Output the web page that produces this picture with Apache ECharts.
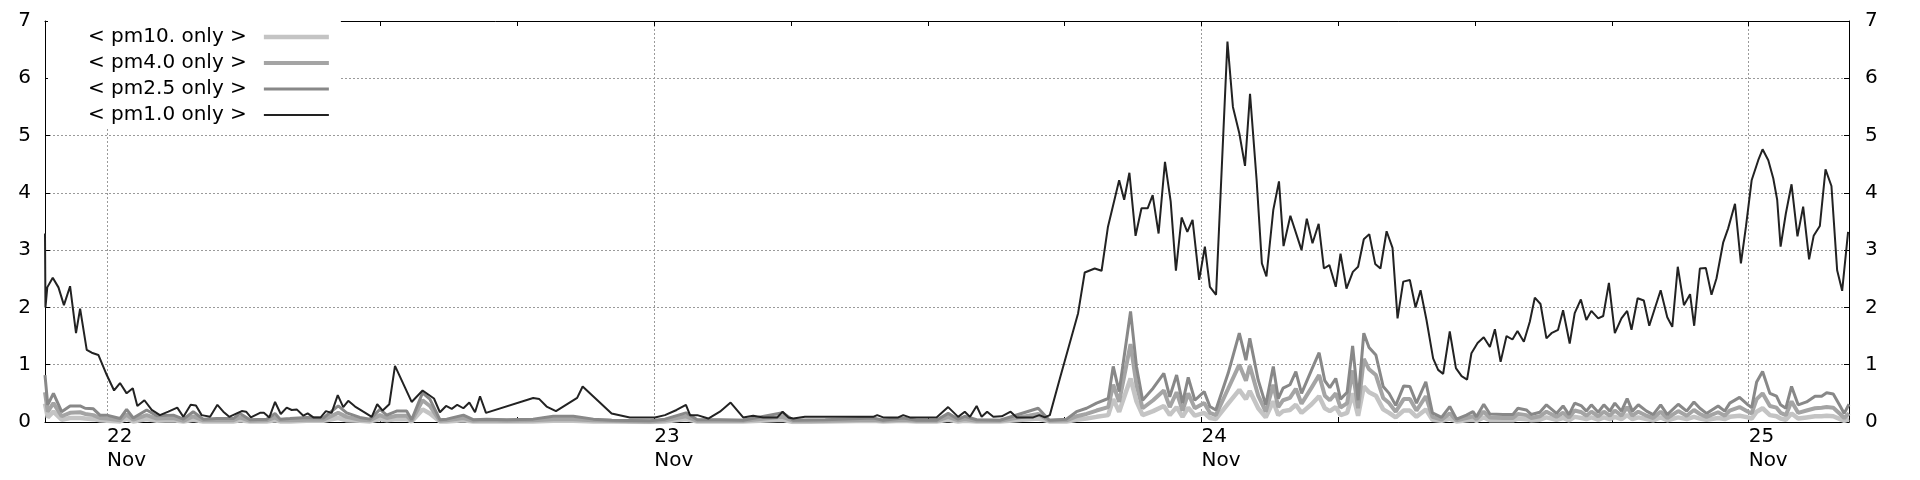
<!DOCTYPE html>
<html><head><meta charset="utf-8">
<script src="https://cdn.jsdelivr.net/npm/echarts@6/dist/echarts.min.js"></script>
<style>html,body{margin:0;padding:0;background:#fff}#chart{width:1920px;height:480px}</style>
</head><body><div id="chart"></div>
<script>
// x values: hours since 22 Nov 00:00
const xRange = [-2.72, 76.4];
const sixHourTicks = [0, 6, 12, 18, 24, 30, 36, 42, 48, 54, 60, 66, 72];
const dayTicks = [0, 24, 48, 72];
const dayLabels = ['22', '23', '24', '25'];
const monthLabel = 'Nov';
const yRange = [0, 7];
const seriesNames = ['< pm10. only >', '< pm4.0 only >', '< pm2.5 only >', '< pm1.0 only >'];

const pm1Points = [[-2.72,3.29],[-2.70,2.00],[-2.62,2.35],[-2.38,2.52],[-2.13,2.35],[-1.89,2.04],[-1.62,2.37],[-1.36,1.55],[-1.18,1.98],[-0.89,1.26],[-0.67,1.21],[-0.38,1.17],[-0.01,0.82],[0.31,0.55],[0.57,0.68],[0.86,0.50],[1.13,0.59],[1.33,0.28],[1.64,0.38],[1.96,0.21],[2.32,0.12],[2.69,0.18],[3.08,0.25],[3.35,0.09],[3.67,0.30],[3.90,0.29],[4.15,0.12],[4.52,0.09],[4.84,0.30],[5.10,0.18],[5.36,0.09],[5.69,0.15],[5.91,0.19],[6.10,0.18],[6.31,0.08],[6.71,0.16],[6.88,0.16],[7.12,0.08],[7.37,0.35],[7.62,0.14],[7.88,0.25],[8.10,0.21],[8.32,0.22],[8.61,0.11],[8.80,0.15],[9.05,0.08],[9.37,0.08],[9.60,0.19],[9.85,0.16],[10.12,0.47],[10.36,0.26],[10.58,0.37],[10.88,0.27],[11.24,0.18],[11.61,0.09],[11.85,0.31],[12.09,0.20],[12.38,0.31],[12.63,0.98],[13.36,0.35],[13.84,0.55],[14.34,0.41],[14.60,0.17],[14.87,0.28],[15.12,0.23],[15.36,0.30],[15.63,0.24],[15.89,0.34],[16.14,0.17],[16.36,0.45],[16.62,0.16],[18.69,0.42],[18.96,0.40],[19.28,0.27],[19.69,0.19],[20.62,0.42],[20.86,0.62],[22.13,0.15],[22.93,0.08],[24.03,0.08],[24.47,0.12],[24.98,0.21],[25.39,0.30],[25.57,0.12],[25.89,0.12],[26.37,0.06],[26.88,0.18],[27.35,0.34],[27.90,0.08],[28.34,0.11],[28.78,0.08],[29.40,0.08],[29.63,0.18],[29.88,0.08],[30.10,0.06],[30.61,0.09],[33.60,0.09],[33.78,0.12],[34.04,0.08],[34.70,0.08],[34.92,0.12],[35.21,0.08],[36.38,0.08],[36.89,0.26],[37.33,0.09],[37.62,0.18],[37.85,0.09],[38.14,0.28],[38.36,0.09],[38.60,0.18],[38.87,0.09],[39.24,0.10],[39.63,0.18],[39.90,0.08],[40.62,0.08],[40.89,0.12],[41.13,0.08],[41.35,0.12],[41.79,0.76],[42.59,1.90],[42.88,2.61],[43.32,2.68],[43.62,2.64],[43.90,3.41],[44.39,4.22],[44.61,3.88],[44.84,4.35],[45.11,3.25],[45.37,3.73],[45.64,3.73],[45.86,3.96],[46.12,3.29],[46.40,4.54],[46.65,3.85],[46.88,2.64],[47.13,3.57],[47.38,3.32],[47.61,3.53],[47.90,2.48],[48.15,3.06],[48.37,2.36],[48.64,2.22],[49.14,6.64],[49.38,5.50],[49.66,5.04],[49.91,4.47],[50.13,5.73],[50.42,4.22],[50.65,2.77],[50.85,2.54],[51.15,3.70],[51.40,4.20],[51.60,3.07],[51.90,3.60],[52.39,3.00],[52.62,3.55],[52.87,3.12],[53.14,3.46],[53.37,2.68],[53.61,2.74],[53.89,2.36],[54.10,2.94],[54.36,2.33],[54.64,2.62],[54.87,2.71],[55.12,3.19],[55.36,3.28],[55.62,2.76],[55.85,2.68],[56.12,3.33],[56.38,3.04],[56.60,1.81],[56.85,2.45],[57.14,2.48],[57.39,2.00],[57.61,2.30],[57.87,1.78],[58.16,1.11],[58.38,0.91],[58.60,0.84],[58.89,1.58],[59.16,0.94],[59.41,0.80],[59.65,0.74],[59.84,1.20],[60.11,1.38],[60.38,1.48],[60.65,1.31],[60.87,1.62],[61.12,1.05],[61.38,1.50],[61.64,1.44],[61.86,1.59],[62.14,1.40],[62.40,1.75],[62.62,2.17],[62.87,2.06],[63.13,1.46],[63.35,1.55],[63.64,1.61],[63.86,1.95],[64.15,1.37],[64.37,1.90],[64.64,2.14],[64.88,1.78],[65.10,1.94],[65.40,1.81],[65.62,1.85],[65.87,2.43],[66.13,1.55],[66.42,1.81],[66.67,1.94],[66.86,1.61],[67.13,2.16],[67.40,2.12],[67.64,1.68],[68.14,2.30],[68.43,1.83],[68.65,1.66],[68.89,2.71],[69.16,2.04],[69.43,2.23],[69.61,1.68],[69.86,2.68],[70.12,2.69],[70.37,2.22],[70.59,2.51],[70.88,3.13],[71.10,3.38],[71.40,3.81],[71.66,2.77],[71.88,3.41],[72.13,4.22],[72.42,4.57],[72.61,4.76],[72.86,4.57],[73.08,4.25],[73.25,3.88],[73.40,3.06],[73.63,3.64],[73.88,4.15],[74.14,3.24],[74.39,3.76],[74.65,2.84],[74.85,3.25],[75.12,3.42],[75.37,4.41],[75.63,4.12],[75.88,2.65],[76.10,2.29],[76.36,3.32]];

const pm25Points = [[-2.72,0.82],[-2.60,0.30],[-2.35,0.50],[-1.99,0.18],[-1.62,0.28],[-1.18,0.28],[-0.96,0.24],[-0.60,0.23],[-0.31,0.12],[-0.01,0.12],[0.57,0.06],[0.86,0.22],[1.15,0.07],[1.74,0.21],[2.18,0.11],[2.91,0.12],[3.35,0.05],[3.78,0.18],[4.22,0.05],[4.81,0.06],[5.54,0.06],[5.83,0.15],[6.27,0.04],[7.00,0.05],[7.37,0.15],[7.59,0.05],[8.02,0.06],[8.76,0.08],[9.49,0.07],[10.14,0.28],[10.51,0.16],[11.09,0.08],[11.53,0.05],[11.97,0.22],[12.27,0.12],[12.70,0.19],[13.14,0.19],[13.36,0.04],[13.84,0.51],[14.16,0.40],[14.60,0.04],[14.90,0.05],[15.63,0.12],[16.06,0.04],[16.65,0.05],[17.53,0.04],[18.69,0.05],[19.57,0.10],[20.45,0.10],[21.33,0.05],[22.13,0.03],[23.81,0.02],[24.47,0.05],[25.39,0.16],[25.89,0.04],[26.88,0.04],[27.90,0.03],[29.63,0.16],[30.10,0.03],[31.50,0.04],[33.60,0.07],[34.04,0.03],[34.92,0.07],[35.50,0.03],[36.38,0.03],[36.89,0.15],[37.33,0.05],[37.62,0.10],[38.14,0.04],[39.16,0.03],[40.84,0.24],[41.33,0.03],[42.08,0.05],[42.52,0.18],[42.96,0.24],[43.40,0.33],[43.91,0.41],[44.13,0.97],[44.39,0.53],[44.89,1.93],[45.15,0.97],[45.42,0.38],[45.88,0.59],[46.35,0.85],[46.61,0.44],[46.91,0.82],[47.17,0.33],[47.42,0.78],[47.71,0.38],[48.12,0.53],[48.37,0.27],[48.63,0.21],[49.17,0.85],[49.66,1.55],[49.95,1.08],[50.12,1.46],[50.49,0.73],[50.82,0.30],[51.15,0.97],[51.37,0.41],[51.58,0.59],[51.88,0.65],[52.14,0.88],[52.39,0.50],[52.83,0.91],[53.16,1.21],[53.41,0.72],[53.63,0.60],[53.89,0.76],[54.10,0.40],[54.39,0.52],[54.63,1.33],[54.87,0.38],[55.12,1.55],[55.35,1.30],[55.65,1.17],[55.97,0.62],[56.23,0.50],[56.52,0.29],[56.87,0.63],[57.14,0.62],[57.43,0.33],[57.84,0.70],[58.13,0.16],[58.53,0.08],[58.89,0.27],[59.19,0.05],[59.62,0.12],[59.91,0.18],[60.06,0.09],[60.38,0.31],[60.65,0.14],[61.23,0.13],[61.66,0.13],[61.88,0.24],[62.25,0.21],[62.47,0.13],[62.84,0.17],[63.13,0.30],[63.57,0.15],[63.86,0.28],[64.12,0.13],[64.37,0.33],[64.67,0.28],[64.88,0.19],[65.10,0.30],[65.40,0.17],[65.65,0.30],[65.91,0.19],[66.13,0.33],[66.42,0.19],[66.67,0.41],[66.90,0.19],[67.16,0.30],[67.52,0.19],[67.81,0.13],[68.14,0.30],[68.43,0.13],[68.91,0.31],[69.28,0.19],[69.60,0.35],[69.86,0.24],[70.15,0.15],[70.66,0.28],[70.95,0.19],[71.17,0.33],[71.60,0.43],[71.97,0.30],[72.13,0.25],[72.35,0.70],[72.61,0.88],[72.93,0.50],[73.22,0.45],[73.40,0.30],[73.63,0.24],[73.88,0.62],[74.17,0.30],[74.54,0.35],[74.91,0.45],[75.20,0.45],[75.42,0.51],[75.71,0.49],[76.01,0.28],[76.19,0.15],[76.40,0.31]];

const pm40Points = [[-2.72,0.52],[-2.60,0.18],[-2.35,0.33],[-1.99,0.10],[-1.62,0.16],[-1.18,0.17],[-0.96,0.14],[-0.60,0.12],[-0.31,0.07],[-0.01,0.06],[0.57,0.03],[0.86,0.13],[1.15,0.04],[1.74,0.12],[2.18,0.06],[2.91,0.07],[3.35,0.02],[3.78,0.10],[4.22,0.03],[4.81,0.03],[5.54,0.03],[5.83,0.08],[6.27,0.02],[7.00,0.03],[7.37,0.08],[7.59,0.03],[8.02,0.03],[8.76,0.04],[9.49,0.04],[10.14,0.16],[10.51,0.09],[11.09,0.04],[11.53,0.03],[11.97,0.12],[12.27,0.07],[12.70,0.11],[13.14,0.11],[13.36,0.02],[13.84,0.38],[14.16,0.28],[14.60,0.02],[14.90,0.03],[15.63,0.07],[16.06,0.02],[16.65,0.03],[17.53,0.02],[18.69,0.03],[19.57,0.05],[20.45,0.05],[21.33,0.03],[22.13,0.02],[23.81,0.01],[24.47,0.03],[25.39,0.10],[25.89,0.02],[26.88,0.02],[27.90,0.02],[29.63,0.09],[30.10,0.02],[31.50,0.02],[33.60,0.04],[34.04,0.02],[34.92,0.04],[35.50,0.02],[36.38,0.02],[36.89,0.09],[37.33,0.03],[37.62,0.05],[38.14,0.02],[39.16,0.02],[40.84,0.14],[41.33,0.02],[42.08,0.03],[42.52,0.10],[42.96,0.14],[43.40,0.20],[43.91,0.26],[44.13,0.65],[44.39,0.35],[44.89,1.36],[45.15,0.65],[45.42,0.24],[45.88,0.38],[46.35,0.55],[46.61,0.26],[46.91,0.52],[47.17,0.20],[47.42,0.50],[47.71,0.24],[48.12,0.33],[48.37,0.16],[48.63,0.12],[49.17,0.58],[49.66,1.00],[49.95,0.72],[50.12,0.98],[50.49,0.46],[50.82,0.18],[51.15,0.65],[51.37,0.26],[51.58,0.38],[51.88,0.42],[52.14,0.58],[52.39,0.32],[52.83,0.60],[53.16,0.82],[53.41,0.46],[53.63,0.38],[53.89,0.50],[54.10,0.25],[54.39,0.33],[54.63,0.90],[54.87,0.24],[55.12,1.10],[55.35,0.92],[55.65,0.82],[55.97,0.42],[56.23,0.33],[56.52,0.18],[56.87,0.40],[57.14,0.40],[57.43,0.20],[57.84,0.45],[58.13,0.09],[58.53,0.04],[58.89,0.15],[59.19,0.03],[59.62,0.07],[59.91,0.10],[60.06,0.05],[60.38,0.18],[60.65,0.08],[61.23,0.07],[61.66,0.07],[61.88,0.14],[62.25,0.12],[62.47,0.07],[62.84,0.10],[63.13,0.18],[63.57,0.09],[63.86,0.16],[64.12,0.08],[64.37,0.20],[64.67,0.17],[64.88,0.11],[65.10,0.18],[65.40,0.10],[65.65,0.18],[65.91,0.11],[66.13,0.20],[66.42,0.11],[66.67,0.26],[66.90,0.11],[67.16,0.18],[67.52,0.11],[67.81,0.07],[68.14,0.18],[68.43,0.07],[68.91,0.19],[69.28,0.11],[69.60,0.21],[69.86,0.14],[70.15,0.09],[70.66,0.17],[70.95,0.11],[71.17,0.20],[71.60,0.26],[71.97,0.18],[72.13,0.15],[72.35,0.40],[72.61,0.50],[72.93,0.28],[73.22,0.25],[73.40,0.16],[73.63,0.12],[73.88,0.36],[74.17,0.16],[74.54,0.20],[74.91,0.24],[75.20,0.25],[75.42,0.26],[75.71,0.25],[76.01,0.14],[76.19,0.07],[76.40,0.15]];

const pm10Points = [[-2.72,0.32],[-2.60,0.08],[-2.35,0.18],[-1.99,0.04],[-1.62,0.07],[-1.18,0.07],[-0.96,0.06],[-0.60,0.05],[-0.31,0.03],[-0.01,0.02],[0.57,0.01],[0.86,0.06],[1.15,0.01],[1.74,0.05],[2.18,0.02],[2.91,0.03],[3.35,0.01],[3.78,0.04],[4.22,0.01],[4.81,0.01],[5.54,0.01],[5.83,0.03],[6.27,0.01],[7.00,0.01],[7.37,0.03],[7.59,0.01],[8.02,0.01],[8.76,0.02],[9.49,0.02],[10.14,0.07],[10.51,0.03],[11.09,0.02],[11.53,0.01],[11.97,0.05],[12.27,0.03],[12.70,0.05],[13.14,0.05],[13.36,0.01],[13.84,0.22],[14.16,0.15],[14.60,0.01],[14.90,0.01],[15.63,0.03],[16.06,0.01],[16.65,0.01],[17.53,0.01],[18.69,0.01],[19.57,0.02],[20.45,0.02],[21.33,0.01],[22.13,0.01],[23.81,0.00],[24.47,0.01],[25.39,0.05],[25.89,0.01],[26.88,0.01],[27.90,0.01],[29.63,0.04],[30.10,0.00],[31.50,0.01],[33.60,0.02],[34.04,0.01],[34.92,0.02],[35.50,0.01],[36.38,0.01],[36.89,0.04],[37.33,0.01],[37.62,0.02],[38.14,0.01],[39.16,0.01],[40.84,0.06],[41.33,0.01],[42.08,0.01],[42.52,0.04],[42.96,0.06],[43.40,0.09],[43.91,0.12],[44.13,0.40],[44.39,0.18],[44.89,0.76],[45.15,0.36],[45.42,0.12],[45.88,0.19],[46.35,0.28],[46.61,0.12],[46.91,0.26],[47.17,0.09],[47.42,0.25],[47.71,0.11],[48.12,0.16],[48.37,0.07],[48.63,0.05],[49.17,0.32],[49.66,0.56],[49.95,0.40],[50.12,0.54],[50.49,0.24],[50.82,0.08],[51.15,0.36],[51.37,0.12],[51.58,0.19],[51.88,0.21],[52.14,0.30],[52.39,0.16],[52.83,0.31],[53.16,0.45],[53.41,0.24],[53.63,0.19],[53.89,0.26],[54.10,0.12],[54.39,0.16],[54.63,0.50],[54.87,0.11],[55.12,0.62],[55.35,0.52],[55.65,0.46],[55.97,0.22],[56.23,0.16],[56.52,0.08],[56.87,0.20],[57.14,0.20],[57.43,0.09],[57.84,0.22],[58.13,0.04],[58.53,0.02],[58.89,0.06],[59.19,0.01],[59.62,0.03],[59.91,0.04],[60.06,0.02],[60.38,0.08],[60.65,0.03],[61.23,0.03],[61.66,0.03],[61.88,0.06],[62.25,0.05],[62.47,0.03],[62.84,0.04],[63.13,0.08],[63.57,0.04],[63.86,0.07],[64.12,0.03],[64.37,0.09],[64.67,0.07],[64.88,0.05],[65.10,0.08],[65.40,0.04],[65.65,0.08],[65.91,0.05],[66.13,0.09],[66.42,0.05],[66.67,0.12],[66.90,0.05],[67.16,0.08],[67.52,0.05],[67.81,0.03],[68.14,0.08],[68.43,0.03],[68.91,0.08],[69.28,0.05],[69.60,0.09],[69.86,0.06],[70.15,0.04],[70.66,0.07],[70.95,0.05],[71.17,0.09],[71.60,0.11],[71.97,0.08],[72.13,0.06],[72.35,0.18],[72.61,0.24],[72.93,0.12],[73.22,0.10],[73.40,0.06],[73.63,0.04],[73.88,0.15],[74.17,0.06],[74.54,0.08],[74.91,0.10],[75.20,0.10],[75.42,0.11],[75.71,0.10],[76.01,0.05],[76.19,0.02],[76.40,0.05]];

const seriesColors = ['#c4c4c4', '#a4a4a4', '#888888', '#222222'];
const seriesWidths = [4.5, 4, 3, 2];
const seriesData = [pm10Points, pm40Points, pm25Points, pm1Points];

const font = 'DejaVu Sans';
const black = '#000';
const gridLine = { show: true, lineStyle: { color: '#9a9a9a', width: 1, type: [2, 2] } };
const legendBar = w => 'path://M0 0H65V' + w + 'H0Z';

const chart = echarts.init(document.getElementById('chart'));
const xCommon = { type: 'value', min: xRange[0], max: xRange[1] };
const option = {
  animation: false,
  backgroundColor: '#fff',
  textStyle: { fontFamily: font },
  grid: { left: 45, right: 71, top: 21, bottom: 58, containLabel: false, outerBoundsMode: 'none' },
  legend: {
    left: 48, top: 21, orient: 'vertical', align: 'right',
    backgroundColor: '#fff', padding: [6, 12, 2, 40],
    itemWidth: 65, itemHeight: 20, itemGap: 6, selectedMode: false,
    symbolKeepAspect: true,
    textStyle: { fontSize: 20, lineHeight: 20, color: black, fontFamily: font, padding: [0, 12, 0, 0] },
    data: seriesNames.map((n, i) => ({
      name: n, icon: legendBar(seriesWidths[i]),
      itemStyle: { color: seriesColors[i], borderWidth: 0 }
    }))
  },
  xAxis: [
    Object.assign({}, xCommon, {
      position: 'bottom',
      axisLine: { show: true, onZero: false, lineStyle: { color: black, width: 1 } },
      axisTick: { show: true, inside: true, length: 5, customValues: sixHourTicks, lineStyle: { color: black } },
      axisLabel: {
        show: true, customValues: dayTicks, align: 'left', verticalAlign: 'top', margin: 3,
        fontSize: 20, lineHeight: 24, color: black, fontFamily: font,
        formatter: v => { const i = dayTicks.indexOf(v); return i < 0 ? '' : dayLabels[i] + '\n' + monthLabel; }
      },
      splitLine: { show: false }
    }),
    Object.assign({}, xCommon, {
      position: 'top',
      axisLine: { show: true, onZero: false, lineStyle: { color: black, width: 1 } },
      axisTick: { show: true, inside: true, length: 5, customValues: sixHourTicks, lineStyle: { color: black } },
      axisLabel: { show: false },
      splitLine: { show: false }
    }),
    Object.assign({}, xCommon, {
      position: 'bottom',
      axisLine: { show: false },
      axisTick: { show: false, customValues: dayTicks },
      axisLabel: { show: false },
      splitLine: gridLine
    })
  ],
  yAxis: [
    {
      type: 'value', position: 'left', min: yRange[0], max: yRange[1], interval: 1,
      axisLine: { show: true, onZero: false, lineStyle: { color: black, width: 1 } },
      axisTick: { show: true, inside: true, length: 5, lineStyle: { color: black } },
      axisLabel: { show: true, margin: 14, fontSize: 20, color: black, fontFamily: font, padding: [0, 0, 6, 0], showMinLabel: true, showMaxLabel: true },
      splitLine: gridLine
    },
    {
      type: 'value', position: 'right', min: yRange[0], max: yRange[1], interval: 1,
      axisLine: { show: true, onZero: false, lineStyle: { color: black, width: 1 } },
      axisTick: { show: true, inside: true, length: 5, lineStyle: { color: black } },
      axisLabel: { show: true, margin: 16, fontSize: 20, color: black, fontFamily: font, padding: [0, 0, 6, 0], showMinLabel: true, showMaxLabel: true },
      splitLine: { show: false }
    }
  ],
  series: seriesNames.map((n, i) => ({
    name: n, type: 'line', xAxisIndex: 0, yAxisIndex: 0,
    data: seriesData[i], symbol: 'none', showSymbol: false,
    lineStyle: { color: seriesColors[i], width: seriesWidths[i] },
    itemStyle: { color: seriesColors[i] },
    emphasis: { disabled: true }, silent: true, z: 2 + i
  }))
};
chart.setOption(option);
</script>
</body></html>
